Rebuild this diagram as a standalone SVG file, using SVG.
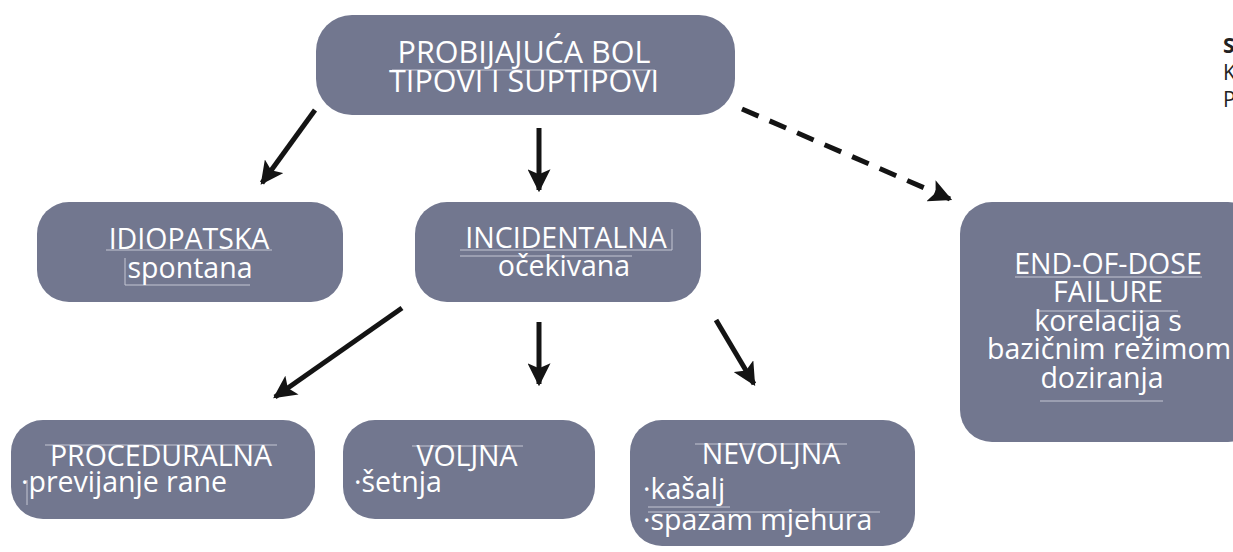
<svg xmlns="http://www.w3.org/2000/svg" width="1233" height="552" viewBox="0 0 1233 552">
<defs>
<style>
.box{fill:#72778f;}
.t{font-family:"Open Sans","Noto Sans",sans-serif;fill:#ffffff;font-size:28.5px;}
.tc{text-anchor:middle;}
.big{font-size:30.5px;}
.edge{stroke:#141414;stroke-width:5;fill:none;}
.dash{stroke-dasharray:18 12;}
.fl{stroke:#c4c7d3;stroke-width:1;fill:none;}
.side{font-family:"Open Sans","Noto Sans",sans-serif;fill:#222;font-size:21px;}
</style>
<marker id="ah" viewBox="0 0 10 10" refX="9" refY="5" markerWidth="4.6" markerHeight="4.6" markerUnits="strokeWidth" orient="auto">
<path d="M0,0 L10,5 L0,10 L2.2,5 Z" fill="#141414"/>
</marker>
</defs>
<rect width="1233" height="552" fill="#ffffff"/>
<g id="side-text">
<text class="side" x="1223" y="53" font-weight="bold">S</text>
<text class="side" x="1223" y="80">K</text>
<text class="side" x="1223" y="107">P</text>
</g>
<g id="connectors">
<line class="edge" x1="315" y1="110" x2="262" y2="183" marker-end="url(#ah)"/>
<line class="edge" x1="539" y1="128" x2="539" y2="190" marker-end="url(#ah)"/>
<line class="edge dash" x1="742" y1="109" x2="950" y2="199" marker-end="url(#ah)"/>
<line class="edge" x1="402" y1="308" x2="275" y2="397" marker-end="url(#ah)"/>
<line class="edge" x1="539" y1="322" x2="539" y2="384" marker-end="url(#ah)"/>
<line class="edge" x1="716" y1="320" x2="754" y2="384" marker-end="url(#ah)"/>
</g>
<g id="node-root">
<rect class="box" x="316" y="15" width="419" height="100" rx="36"/>
<line class="fl" x1="392" y1="70" x2="655" y2="70"/>
<text class="t tc big" x="524" y="63">PROBIJAJUĆA BOL</text>
<text class="t tc big" x="524" y="92">TIPOVI I SUPTIPOVI</text>
</g>
<g id="node-idiopatska">
<rect class="box" x="37" y="202" width="306" height="100" rx="32"/>
<polyline class="fl" points="106,250 272,250"/>
<polyline class="fl" points="125,258 125,285 250,285"/>
<text class="t tc" x="189" y="249">IDIOPATSKA</text>
<text class="t tc" x="190" y="278">spontana</text>
</g>
<g id="node-incidentalna">
<rect class="box" x="415" y="202" width="286" height="100" rx="32"/>
<polyline class="fl" points="460,250 672,250 672,229"/>
<line class="fl" x1="460" y1="256" x2="632" y2="256"/>
<text class="t tc" x="566" y="248">INCIDENTALNA</text>
<text class="t tc" x="564" y="276">očekivana</text>
</g>
<g id="node-endofdose">
<rect class="box" x="960" y="202" width="300" height="240" rx="32"/>
<line class="fl" x1="1015" y1="277" x2="1202" y2="277"/>
<line class="fl" x1="1039" y1="311" x2="1178" y2="311"/>
<line class="fl" x1="1040" y1="401" x2="1163" y2="401"/>
<text class="t tc" x="1108" y="274">END-OF-DOSE</text>
<text class="t tc" x="1108" y="302">FAILURE</text>
<text class="t tc" x="1108" y="331">korelacija s</text>
<text class="t tc" x="1109" y="359">bazičnim režimom</text>
<text class="t tc" x="1102" y="388">doziranja</text>
</g>
<g id="node-proceduralna">
<rect class="box" x="11" y="420" width="304" height="99" rx="32"/>
<line class="fl" x1="45" y1="445" x2="277" y2="445"/>
<line class="fl" x1="27" y1="480" x2="27" y2="505"/>
<text class="t tc" x="161" y="466">PROCEDURALNA</text>
<text class="t" x="21" y="492">·previjanje rane</text>
</g>
<g id="node-voljna">
<rect class="box" x="343" y="420" width="252" height="99" rx="32"/>
<line class="fl" x1="412" y1="446" x2="523" y2="446"/>
<text class="t tc" x="467" y="466">VOLJNA</text>
<text class="t" x="354" y="492">·šetnja</text>
</g>
<g id="node-nevoljna">
<rect class="box" x="630" y="420" width="285" height="126" rx="32"/>
<line class="fl" x1="695" y1="444" x2="847" y2="444"/>
<line class="fl" x1="648" y1="507" x2="730" y2="507"/>
<line class="fl" x1="648" y1="512" x2="880" y2="512"/>
<text class="t tc" x="771" y="464">NEVOLJNA</text>
<text class="t" x="643" y="499">·kašalj</text>
<text class="t" x="643" y="530">·spazam mjehura</text>
</g>
</svg>
